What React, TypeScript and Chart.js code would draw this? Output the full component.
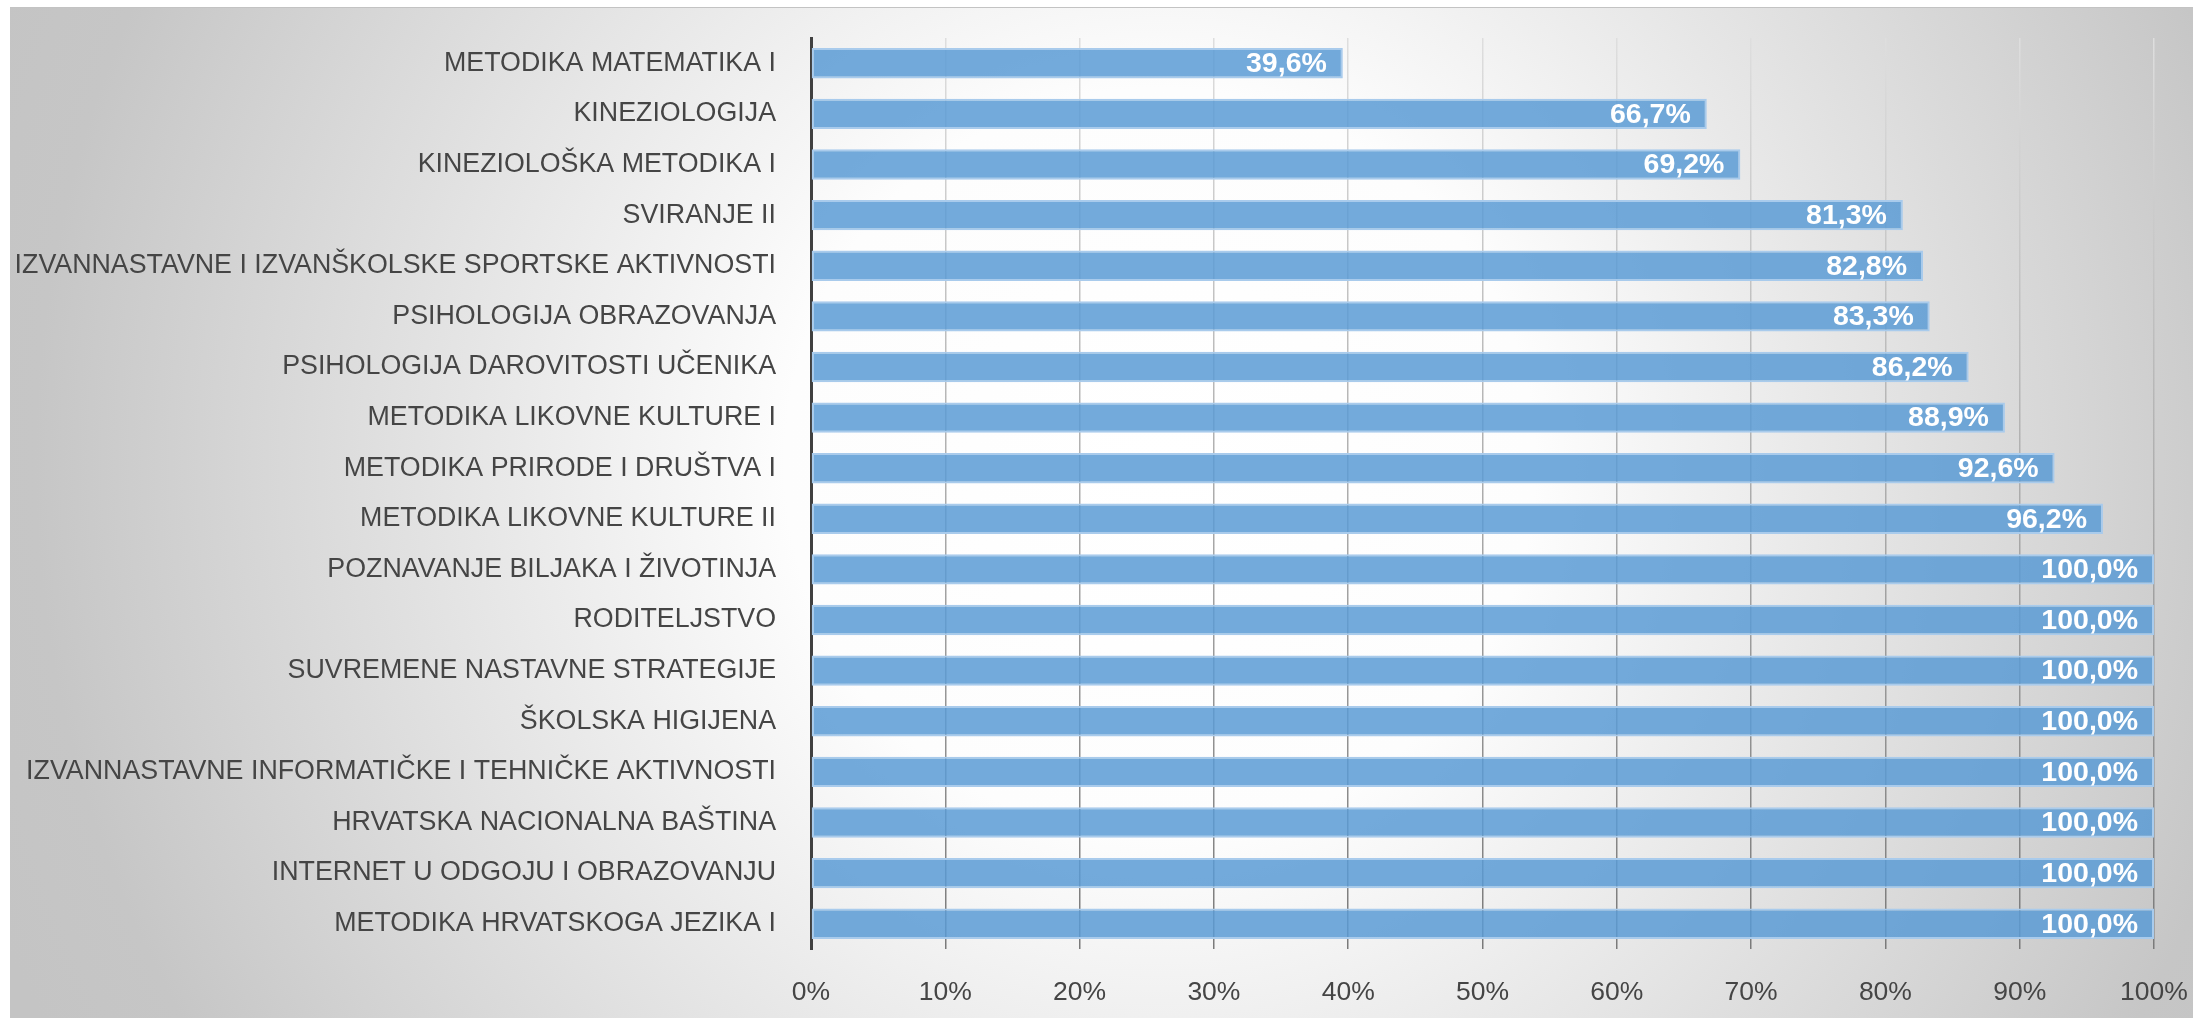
import React, { useEffect, useRef } from 'react';
import { Chart, registerables } from 'chart.js';

Chart.register(...registerables);

const categories: string[] = [
  'METODIKA MATEMATIKA I',
  'KINEZIOLOGIJA',
  'KINEZIOLOŠKA METODIKA I',
  'SVIRANJE II',
  'IZVANNASTAVNE I IZVANŠKOLSKE SPORTSKE AKTIVNOSTI',
  'PSIHOLOGIJA OBRAZOVANJA',
  'PSIHOLOGIJA DAROVITOSTI UČENIKA',
  'METODIKA LIKOVNE KULTURE I',
  'METODIKA PRIRODE I DRUŠTVA I',
  'METODIKA LIKOVNE KULTURE II',
  'POZNAVANJE BILJAKA I ŽIVOTINJA',
  'RODITELJSTVO',
  'SUVREMENE NASTAVNE STRATEGIJE',
  'ŠKOLSKA HIGIJENA',
  'IZVANNASTAVNE INFORMATIČKE I TEHNIČKE AKTIVNOSTI',
  'HRVATSKA NACIONALNA BAŠTINA',
  'INTERNET U ODGOJU I OBRAZOVANJU',
  'METODIKA HRVATSKOGA JEZIKA I',
];

const values: number[] = [
  39.6, 66.7, 69.2, 81.3, 82.8, 83.3, 86.2, 88.9, 92.6, 96.2,
  100, 100, 100, 100, 100, 100, 100, 100,
];

const axisMin = 0;
const axisMax = 100;
const axisStep = 10;

const FONT = "'Liberation Sans', Arial, sans-serif";
const TEXT_COLOR = '#454545';

const valueLabelPlugin = {
  id: 'valueLabels',
  afterDatasetsDraw(chart: any) {
    const ctx = chart.ctx;
    const meta = chart.getDatasetMeta(0);
    ctx.save();
    ctx.font = `bold 28.5px ${FONT}`;
    ctx.fillStyle = '#ffffff';
    ctx.textAlign = 'right';
    ctx.textBaseline = 'middle';
    meta.data.forEach((bar: any, i: number) => {
      const text = values[i].toFixed(1).replace('.', ',') + '%';
      ctx.fillText(text, bar.x - 16, bar.y + 1);
    });
    ctx.restore();
  },
};

export default function App() {
  const canvasRef = useRef<HTMLCanvasElement | null>(null);

  useEffect(() => {
    const canvas = canvasRef.current;
    if (!canvas) return;
    let gridGradient: any = null;
    const chart = new Chart(canvas, {
      type: 'bar',
      data: {
        labels: categories,
        datasets: [
          {
            data: values,
            backgroundColor: 'rgba(91,155,213,0.85)',
            borderColor: '#a9cbec',
            borderWidth: 2,
            borderSkipped: false,
            barPercentage: 0.6,
            categoryPercentage: 1,
          },
        ],
      },
      options: {
        indexAxis: 'y',
        responsive: false,
        animation: false,
        devicePixelRatio: 1,
        layout: { padding: { top: 30, right: 39, left: 0, bottom: 0 } },
        plugins: {
          legend: { display: false },
          tooltip: { enabled: false },
        },
        scales: {
          x: {
            type: 'linear',
            position: 'bottom',
            min: axisMin,
            max: axisMax,
            ticks: {
              stepSize: axisStep,
              callback: (v: any) => `${v}%`,
              font: { family: FONT, size: 26.5 },
              color: TEXT_COLOR,
              padding: 0,
              maxRotation: 0,
            },
            grid: {
              drawTicks: true,
              tickLength: 28,
              tickColor: 'rgba(0,0,0,0)',
              lineWidth: 1.5,
              color: (c: any) => {
                const area = c.chart.chartArea;
                if (!area) return '#bfbfbf';
                if (!gridGradient) {
                  const g = c.chart.ctx.createLinearGradient(0, area.top, 0, area.bottom);
                  g.addColorStop(0, '#dedede');
                  g.addColorStop(1, '#7a7a7a');
                  gridGradient = g;
                }
                return gridGradient;
              },
            },
            border: { display: false },
            afterFit: (s: any) => {
              s.height = 69;
            },
          },
          y: {
            type: 'category',
            ticks: {
              font: { family: FONT, size: 26.8 },
              color: TEXT_COLOR,
              padding: 0,
              autoSkip: false,
            },
            grid: {
              display: true,
              drawOnChartArea: false,
              drawTicks: true,
              tickLength: 35,
              color: 'rgba(0,0,0,0)',
              tickColor: 'rgba(0,0,0,0)',
            },
            border: { display: true, color: '#404040', width: 3 },
            afterFit: (s: any) => {
              s.width = 801;
            },
          },
        },
      },
      plugins: [valueLabelPlugin],
    } as any);
    return () => {
      chart.destroy();
    };
  }, []);

  return (
    <div
      style={{
        position: 'fixed',
        left: 0,
        top: 0,
        width: 2193,
        height: 1018,
        background: '#ffffff',
        overflow: 'hidden',
      }}
    >
      <div
        style={{
          position: 'absolute',
          left: 10,
          top: 7,
          width: 2183,
          height: 1011,
          borderTop: '1px solid #c3c3c3',
          boxSizing: 'border-box',
          background:
            'radial-gradient(circle 1250px at 1150px 455px, #ffffff 0%, #fdfdfd 30%, #c6c6c6 90%, #c4c4c4 100%)',
        }}
      >
        <canvas
          ref={canvasRef}
          width={2183}
          height={1010}
          style={{ display: 'block', width: 2183, height: 1010 }}
        />
      </div>
    </div>
  );
}
